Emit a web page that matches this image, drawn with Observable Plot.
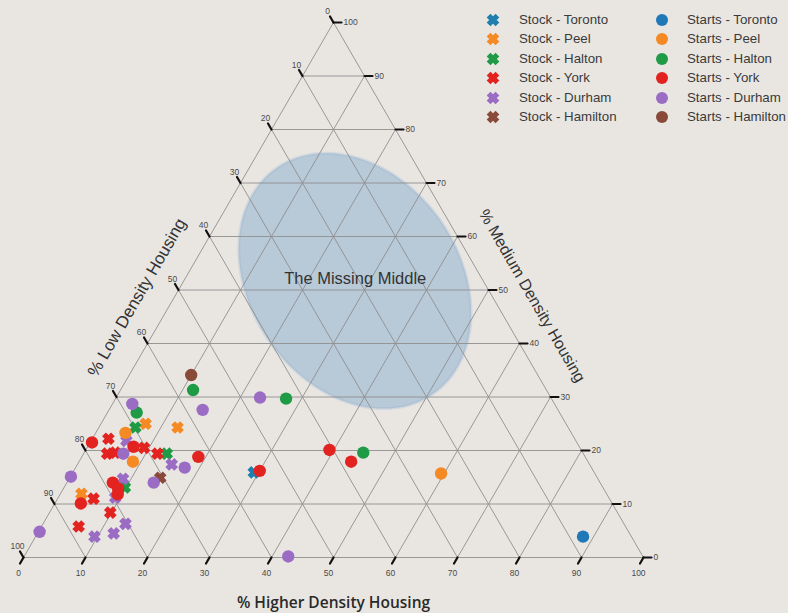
<!DOCTYPE html>
<html><head><meta charset="utf-8">
<script src="https://cdn.jsdelivr.net/npm/d3@7"></script>
<script src="https://cdn.jsdelivr.net/npm/@observablehq/plot@0.6"></script>
<style>
html,body{margin:0;padding:0;background:#e9e6e2;}
#wrap{position:relative;width:788px;height:613px;overflow:hidden;font-family:"Liberation Sans",Arial,sans-serif;}
#legend{position:absolute;left:0;top:0;width:788px;height:140px;pointer-events:none;}
.li{position:absolute;font-size:13.3px;color:#3a3a3a;white-space:nowrap;line-height:16px;}
.lm{position:absolute;}
</style></head><body>
<div id="wrap"><div id="chart"></div><div id="legend"></div></div>
<script>
// ---- data (each point: [% higher density, % medium density]; low = 100 - both) ----
const regions = ["Toronto", "Peel", "Halton", "York", "Durham", "Hamilton"];
const regionColors = ["#1f78b8", "#f58a24", "#1f9a45", "#e2231f", "#9a6cc4", "#8a4a3a"];
const stockColors = ["#1f7fae", "#f58a24", "#1f9a45", "#e2231f", "#9a6cc4", "#8a4a3a"];
const kinds = ["Stock", "Starts"];

const stockToronto = [[29.2, 15.9]];
const stockPeel = [[7.2, 25.0], [12.7, 24.3], [3.4, 11.9]];
const stockHalton = [[5.9, 24.3], [13.4, 19.4], [9.8, 13.1]];
const stockYork = [[2.6, 22.2], [9.2, 20.5], [3.8, 19.4], [5.0, 19.6], [11.9, 19.4], [5.8, 11.0], [9.8, 8.4], [6.0, 5.8]];
const stockDurham = [[5.7, 21.8], [15.2, 17.4], [8.7, 14.7], [9.5, 3.9], [12.3, 4.5], [13.3, 6.3], [9.2, 11.2]];
const stockHamilton = [[14.6, 14.9]];

const startsToronto = [[88.3, 3.9]];
const startsPeel = [[4.8, 23.3], [8.7, 17.9], [59.5, 15.7]];
const startsHalton = [[11.7, 31.3], [27.5, 29.7], [4.7, 27.1], [45.0, 19.6]];
const startsYork = [[0.3, 21.5], [7.4, 20.7], [18.8, 18.8], [39.3, 20.1], [43.9, 17.9], [30.0, 16.2], [7.4, 14.0], [8.8, 12.9], [9.3, 11.8], [4.2, 10.1]];
const startsDurham = [[3.2, 28.7], [15.1, 27.6], [23.2, 29.9], [6.4, 19.4], [17.6, 16.8], [14.0, 14.0], [0.1, 15.1], [0.2, 4.8], [42.6, 0.2]];
const startsHamilton = [[10.0, 34.1]];

const tickLabels = [0, 10, 20, 30, 40, 50, 60, 70, 80, 90, 100];
const gridLevels = [0, 10, 20, 30, 40, 50, 60, 70, 80, 90];

// "Missing Middle" ellipse: centre as ternary (% higher, % medium), semi-axes in % of side
const missingMiddle = {high: 27.6, medium: 51.7, a: 22.2, b: 16.9, angle: -55.8};

// ---- helpers ----
const tern = (h, m) => ({X: h + m / 2, Y: m});
const stockSeries = [stockToronto, stockPeel, stockHalton, stockYork, stockDurham, stockHamilton];
const startsSeries = [startsToronto, startsPeel, startsHalton, startsYork, startsDurham, startsHamilton];
const stockRows = [];
stockSeries.forEach((s, i) => s.forEach(([h, m]) => stockRows.push({kind: "Stock", region: regions[i], ...tern(h, m)})));
const startsRows = [];
startsSeries.forEach((s, i) => s.forEach(([h, m]) => startsRows.push({kind: "Starts", region: regions[i], ...tern(h, m)})));

const grid = [];
for (const t of gridLevels) {
  const a1 = tern(0, t), a2 = tern(100 - t, t);            // constant medium
  const b1 = tern(t, 0), b2 = tern(t, 100 - t);            // constant higher
  const c1 = tern(100 - t, 0), c2 = tern(0, 100 - t);      // constant low
  grid.push({x1: a1.X, y1: a1.Y, x2: a2.X, y2: a2.Y});
  grid.push({x1: b1.X, y1: b1.Y, x2: b2.X, y2: b2.Y});
  grid.push({x1: c1.X, y1: c1.Y, x2: c2.X, y2: c2.Y});
}
const bottomTicks = tickLabels.map(v => ({...tern(v, 0), label: v}));
const leftTicks = tickLabels.map(v => ({...tern(0, 100 - v), label: v}));
const rightTicks = tickLabels.map(v => ({...tern(100 - v, v), label: v}));

const K = Math.sqrt(3) / 2;
const ell = [];
{
  const c = tern(missingMiddle.high, missingMiddle.medium);
  const t = missingMiddle.angle * Math.PI / 180;
  for (let i = 0; i < 120; i++) {
    const s = i / 120 * 2 * Math.PI;
    const ux = missingMiddle.a * Math.cos(s), uy = missingMiddle.b * Math.sin(s);
    const px = ux * Math.cos(t) - uy * Math.sin(t);
    const py = ux * Math.sin(t) + uy * Math.cos(t);
    ell.push({X: c.X + px, Y: c.Y + py / K});
  }
}

const xSymbol = {
  draw(ctx, size) {
    const R = Math.sqrt(size / 2.654), w = 0.42 * R, c = Math.SQRT1_2;
    const p = [[-w, -R], [w, -R], [w, -w], [R, -w], [R, w], [w, w], [w, R], [-w, R], [-w, w], [-R, w], [-R, -w], [-w, -w]];
    p.forEach(([x, y], i) => {
      const X = (x - y) * c, Y = (x + y) * c;
      i ? ctx.lineTo(X, Y) : ctx.moveTo(X, Y);
    });
    ctx.closePath();
  }
};
const tickShape = {draw(ctx, l) { ctx.moveTo(0, 0); ctx.lineTo(0, -l); }};

const colorOf = (r, kind) => (kind === "Stock" ? stockColors : regionColors)[regions.indexOf(r)];

const plot = Plot.plot({
  width: 788, height: 613,
  marginLeft: 23, marginRight: 145, marginTop: 22, marginBottom: 56,
  x: {domain: [0, 100], axis: null},
  y: {domain: [0, 100], axis: null},
  style: {background: "transparent", fontFamily: "Liberation Sans, Arial, sans-serif", overflow: "visible"},
  marks: [
    Plot.line(ell, {x: "X", y: "Y", curve: "linear-closed", fill: "#8fb0d0", fillOpacity: 0.55, stroke: "#8fb0d0", strokeOpacity: 0.25, strokeWidth: 3}),
    Plot.link(grid, {x1: "x1", y1: "y1", x2: "x2", y2: "y2", stroke: "#8e8e8e", strokeWidth: 0.9}),
    Plot.vector(bottomTicks, {x: "X", y: "Y", length: 7, rotate: 210, anchor: "start", shape: tickShape, stroke: "#111", strokeWidth: 2.2}),
    Plot.vector(leftTicks, {x: "X", y: "Y", length: 7, rotate: 330, anchor: "start", shape: tickShape, stroke: "#111", strokeWidth: 2.2}),
    Plot.vector(rightTicks, {x: "X", y: "Y", length: 8, rotate: 90, anchor: "start", shape: tickShape, stroke: "#111", strokeWidth: 2.2}),
    Plot.text(bottomTicks, {x: "X", y: "Y", text: "label", dx: -5, dy: 16, fontSize: 8.5, fill: "#4a4a4a"}),
    Plot.text(leftTicks, {x: "X", y: "Y", text: "label", dx: -6, dy: -11, fontSize: 8.5, fill: "#4a4a4a"}),
    Plot.text(rightTicks, {x: "X", y: "Y", text: "label", dx: 10, textAnchor: "start", fontSize: 8.5, fill: "#4a4a4a"}),
    Plot.text(["The Missing Middle"], {x: 53.5, y: 52.2, text: d => d, fontSize: 16.5, fill: "#333"}),
    Plot.text(["% Higher Density Housing"], {x: 50, y: 0, dy: 46, text: d => d, fontSize: 15.5, fontWeight: 600, fill: "#2a2a2a", fontFamily: "Open Sans"}),
    Plot.text(["% Low Density Housing"], {x: 18.3, y: 48.6, rotate: -60, text: d => d, fontSize: 17, fill: "#333"}),
    Plot.text(["% Medium Density Housing"], {x: 82.0, y: 48.9, rotate: 60, text: d => d, fontSize: 16, fill: "#333"}),
    Plot.dot(stockRows, {x: "X", y: "Y", r: 5.8, symbol: xSymbol, fill: d => colorOf(d.region, "Stock"), stroke: "none"}),
    Plot.dot(startsRows, {x: "X", y: "Y", r: 6.2, symbol: "circle", fill: d => colorOf(d.region, "Starts"), stroke: "none"})
  ]
});
document.getElementById("chart").appendChild(plot);

// ---- legend ----
const legend = d3.select("#legend");
const colX = {Stock: [493, 519], Starts: [662, 687]};
kinds.forEach(kind => {
  regions.forEach((r, i) => {
    const cy = 20 + i * 19.4;
    const [mx, tx] = colX[kind];
    const svg = legend.append("svg").attr("class", "lm").attr("width", 16).attr("height", 16)
      .style("left", (mx - 8) + "px").style("top", (cy - 8) + "px");
    const sym = kind === "Stock" ? d3.symbol(xSymbol, Math.PI * 5.8 * 5.8) : d3.symbol(d3.symbolCircle, Math.PI * 6 * 6);
    svg.append("path").attr("d", sym()).attr("transform", "translate(8,8)").attr("fill", colorOf(r, kind));
    legend.append("div").attr("class", "li").style("left", tx + "px").style("top", (cy - 8) + "px").text(kind + " - " + r);
  });
});
</script>
</body></html>
